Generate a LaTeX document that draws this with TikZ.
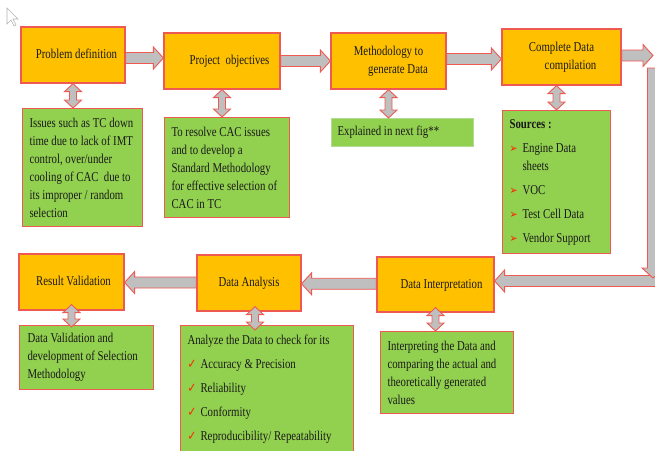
\documentclass[tikz,border=0pt]{standalone}
\usepackage{fontspec}
\newfontfamily\wordfont{Liberation Serif}
\newfontfamily\symfont{DejaVu Sans}
\usetikzlibrary{calc}
\definecolor{stageorange}{HTML}{FFC000}
\definecolor{edgered}{HTML}{EE5A52}
\definecolor{notegreen}{HTML}{92D050}
\definecolor{noteedge}{HTML}{B2DC94}
\definecolor{arrowgray}{HTML}{BFBFBF}
\definecolor{bulred}{HTML}{FF2400}
\definecolor{inkdark}{HTML}{1A1A1A}

% text of the boxes, set a little taller than wide
\newcommand{\notetext}[2]{\scalebox{1}[1.25]{\parbox{#1}{\raggedright #2}}}
\newcommand{\stagetext}[1]{\scalebox{1}[1.25]{\begin{tabular}{@{}c@{}}#1\end{tabular}}}
% bullets used in the note boxes
\newcommand{\bul}{\makebox[13pt][l]{\symfont\fontsize{9.5}{9.5}\selectfont\color{bulred}➢}}
\newcommand{\bulsp}{\hspace*{13pt}}
\newcommand{\chk}{\makebox[13pt][l]{\symfont\fontsize{10.5}{10.5}\selectfont\color{bulred}✓}}

% block arrow between two points, horizontal (y = mean of both)
\newcommand{\hblk}[2]{%
  \path[blk] let \p1=(#1), \p2=(#2), \n1={0.5*(\y1+\y2)}, \n2={sign(\x2-\x1)} in
    (\x1,\n1+5.5pt) -- (\x2-\n2*10pt,\n1+5.5pt) -- (\x2-\n2*10pt,\n1+11pt) -- (\x2,\n1)
    -- (\x2-\n2*10pt,\n1-11pt) -- (\x2-\n2*10pt,\n1-5.5pt) -- (\x1,\n1-5.5pt) -- cycle;}
% double headed block arrow, vertical (x taken from the first point)
\newcommand{\vblk}[2]{%
  \path[blk] let \p1=(#1), \p2=(#2), \n1={min(8,0.38*abs(\y1-\y2))} in
    (\x1,\y1) -- (\x1+8.5pt,\y1-\n1) -- (\x1+3.5pt,\y1-\n1) -- (\x1+3.5pt,\y2+\n1)
    -- (\x1+8.5pt,\y2+\n1) -- (\x1,\y2) -- (\x1-8.5pt,\y2+\n1) -- (\x1-3.5pt,\y2+\n1)
    -- (\x1-3.5pt,\y1-\n1) -- (\x1-8.5pt,\y1-\n1) -- cycle;}

\begin{document}
\begin{tikzpicture}[
      x=1pt, y=-1pt,
      font=\wordfont\fontsize{10.8}{14.4}\selectfont, text=inkdark,
      stage/.style={draw=edgered, fill=stageorange, line width=1.2pt,
                    align=center, inner sep=0pt},
      note/.style={draw=edgered, fill=notegreen, line width=1pt,
                   anchor=north west, inner xsep=7pt, inner ysep=0pt},
      blk/.style={draw=edgered, fill=arrowgray, line width=0.9pt, line join=miter},
    ]
    \useasboundingbox (0,0) rectangle (655,450);
    \clip (0,0) rectangle (655,450);

    % ---------- cursor ----------
    \draw[gray!60, fill=white, line width=0.6pt]
      (7,8) -- (7,24) -- (11,20) -- (14,26) -- (16,25) -- (13,19) -- (18,19) -- cycle;

    % ---------- top row ----------
    \node[stage, minimum width=104pt, minimum height=56pt] (pd) at (73,55)
      {\stagetext{\hspace*{7pt}Problem definition}};
    \node[stage, minimum width=116pt, minimum height=56pt] (po) at (222,61)
      {\stagetext{\hspace*{15pt}Project\ \ objectives}};
    \node[stage, minimum width=115pt, minimum height=56pt] (mg) at (388.5,61)
      {\stagetext{Methodology to\\\hspace*{19pt}generate Data}};
    \node[stage, minimum width=119pt, minimum height=56pt] (cdc) at (561.5,57)
      {\stagetext{Complete Data\\\hspace*{18pt}compilation}};

    % ---------- top notes ----------
    \node[note, minimum height=118pt] (iss) at (22,108)
      {\notetext{106pt}{Issues such as TC down\\time due to lack of IMT\\control, over/under\\
       cooling of CAC\ \ due to\\its improper / random\\selection}};
    \node[note, minimum height=100pt] (obj) at (164,117)
      {\notetext{111pt}{To resolve CAC issues\\and to develop a\\Standard Methodology\\
       for effective selection of\\CAC in TC}};
    \node[note, draw=noteedge, inner xsep=6pt, minimum height=28pt] (nxt) at (331,118)
      {\notetext{130pt}{Explained in next fig**}};
    \node[note, minimum height=143pt] (src) at (502,110)
      {\notetext{94pt}{\textbf{Sources :}\\[4.8pt]\bul Engine Data\\\bulsp sheets\\[4.8pt]
       \bul VOC\\[4.8pt]\bul Test Cell Data\\[4.8pt]\bul Vendor Support}};

    % ---------- bottom row ----------
    \node[stage, minimum width=117pt, minimum height=55pt] (di) at (435.5,284.5)
      {\stagetext{\hspace*{12pt}Data Interpretation}};
    \node[stage, minimum width=104pt, minimum height=56pt] (da) at (249,283)
      {\stagetext{Data Analysis}};
    \node[stage, minimum width=105pt, minimum height=56pt] (rv) at (71.5,282)
      {\stagetext{\hspace*{4pt}Result Validation}};

    % ---------- bottom notes ----------
    \node[note, inner xsep=8pt, minimum height=64pt] (val) at (19,325)
      {\notetext{118pt}{Data Validation and\\development of Selection\\Methodology}};
    \node[note, minimum height=128pt] (ana) at (180,325)
      {\notetext{159pt}{Analyze the Data to check for its\\[4.8pt]\chk Accuracy \& Precision\\[4.8pt]
       \chk Reliability\\[4.8pt]\chk Conformity\\[4.8pt]\chk Reproducibility/ Repeatability}};
    \node[note, minimum height=82pt] (itp) at (380,331)
      {\notetext{119pt}{Interpreting the Data and\\comparing the actual and\\
       theoretically generated\\values}};

    % ---------- flow ----------
    \coordinate (r1) at (653,54);
    \coordinate (r2) at (653,68);
    \coordinate (r3) at (653,278);
    \coordinate (r4) at (660,277.5);
    \hblk{pd.east}{po.west}
    \hblk{po.east}{mg.west}
    \hblk{mg.east}{cdc.west}
    \hblk{cdc.east}{r1}
    \hblk{r4}{di.east}
    \path[blk] let \p1=(r2), \p2=(r3) in
      (\x1-5.5pt,\y1) -- (\x1+5.5pt,\y1) -- (\x1+5.5pt,\y2+10pt) -- (\x1+11pt,\y2+10pt)
      -- (\x2,\y2) -- (\x1-11pt,\y2+10pt) -- (\x1-5.5pt,\y2+10pt) -- cycle;
    \hblk{di.west}{da.east}
    \hblk{da.west}{rv.east}

    % ---------- links to notes ----------
    \vblk{pd.south}{iss.north}
    \vblk{po.south}{obj.north}
    \vblk{mg.south}{nxt.north}
    \vblk{[xshift=-5pt]cdc.south}{src.north}
    \vblk{[yshift=6pt]rv.south}{[yshift=-2pt]val.north}
    \vblk{[xshift=6pt,yshift=5pt]da.south}{[yshift=-5pt]ana.north}
    \vblk{[yshift=5pt]di.south}{di.south |- itp.north}

  \end{tikzpicture}
\end{document}
